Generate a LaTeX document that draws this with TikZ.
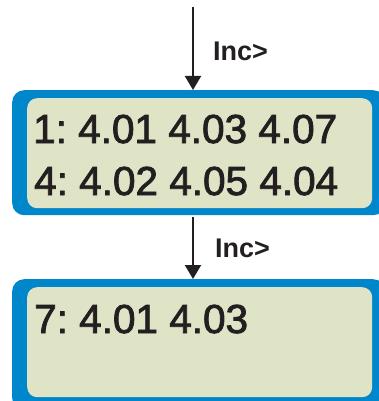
\documentclass[tikz,border=0pt]{standalone}
\usepackage{fontspec}
\setmainfont{Liberation Sans}
\newfontfamily\lcdfont{Liberation Sans}[FakeBold=2]
\usepackage{tikz}
\usetikzlibrary{arrows.meta}
\definecolor{lcdblue}{RGB}{0,134,202}
\definecolor{lcdgreen}{RGB}{223,228,198}
\definecolor{lcdink}{RGB}{35,31,32}
\tikzset{
  frame/.style={fill=lcdblue, rounded corners=12pt, inner sep=0pt, anchor=north west,
    minimum width=373pt, minimum height=125pt},
  screen/.style={fill=lcdgreen, rounded corners=10pt, inner sep=0pt, anchor=north west,
    minimum width=345pt, minimum height=110pt},
  readout/.style={anchor=base west, inner sep=0pt, text=lcdink,
    font=\lcdfont\fontsize{40.5}{41}\selectfont\frenchspacing},
  inclabel/.style={anchor=base west, inner sep=0pt, text=lcdink,
    font=\fontsize{27}{27}\selectfont\bfseries},
  incarrow/.style={draw=lcdink, line width=2pt, -{Triangle[length=14pt, width=16pt]}}
}

\begin{document}
\begin{tikzpicture}[x=1pt, y=-1pt]

\useasboundingbox (0, 0) rectangle (379, 401);

\node [frame] (topframe) at (12, 90) {};
\node [screen] (topscreen) at (27, 98) {};
\node [frame, minimum height=131pt] (botframe) at (12, 279) {};
\node [screen] (botscreen) at (27, 287) {};

\node [readout] (row1) at (33, 143) {1: 4.01 4.03 4.07};
\node [readout] (row4) at (34, 195) {4: 4.02 4.05 4.04};
\node [readout] (row7) at (34, 333) {7: 4.01 4.03};

\coordinate (src1) at (193, 7);
\coordinate (src2) at (193, 217);
\draw [incarrow] (src1) -- (src1 |- topframe.north);
\draw [incarrow] (src2) -- (src2 |- botframe.north);

\node [inclabel] (inc1) at (213, 61) {Inc>};
\node [inclabel] (inc2) at (215, 257) {Inc>};

\end{tikzpicture}
\end{document}
